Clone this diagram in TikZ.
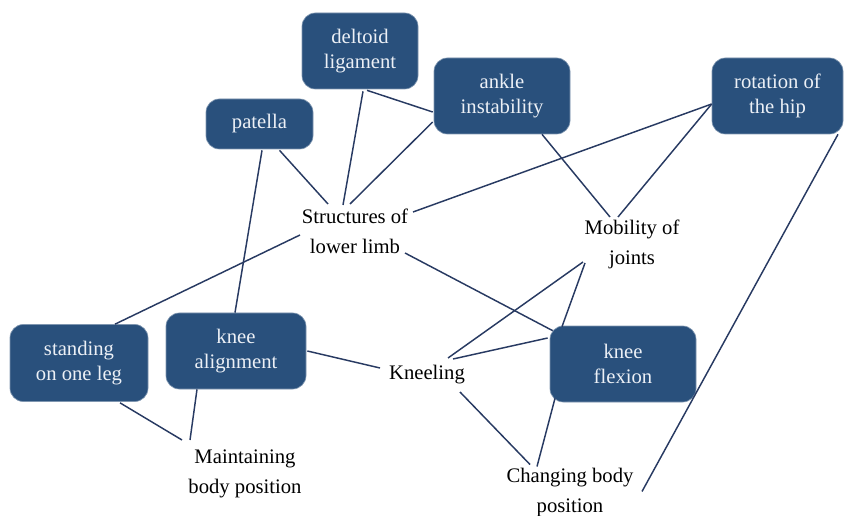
\documentclass[tikz,border=0pt]{standalone}
\usepackage{fontspec}
\setmainfont{Liberation Serif}
\usetikzlibrary{calc}
\definecolor{boxblue}{RGB}{41,80,124}
\definecolor{edgeblue}{RGB}{40,58,98}
\definecolor{boxtext}{RGB}{236,240,246}
\tikzset{
  topic/.style={rounded corners=10pt, fill=boxblue, draw=boxblue!60!white, line width=0.5pt,
    text=boxtext, align=center, inner sep=0pt,
    font=\fontsize{15.5}{18.5}\selectfont},
  term/.style={align=center, inner sep=0pt, text=black,
    font=\fontsize{15.5}{22.5}\selectfont},
  link/.style={draw=edgeblue, line width=1.1pt}
}
\begin{document}
\begin{tikzpicture}[x=0.75pt, y=-0.75pt]
\useasboundingbox (0,0) rectangle (845,516);

% rounded topic boxes
\node[topic, minimum width=87pt,    minimum height=57pt]    (delt)  at (360,51)    {deltoid\\ligament};
\node[topic, minimum width=102pt,   minimum height=57pt]    (ankle) at (502,96)    {ankle\\instability};
\node[topic, minimum width=80.25pt, minimum height=37.5pt]  (pat)   at (259.5,124) {patella};
\node[topic, minimum width=98.25pt, minimum height=57pt]    (hip)   at (777.5,96)  {rotation of\\the hip};
\node[topic, minimum width=103.5pt, minimum height=57.75pt] (stand) at (79,363)    {standing\\on one leg};
\node[topic, minimum width=105pt,   minimum height=57pt]    (align) at (236,351)   {knee\\alignment};
\node[topic, minimum width=109.5pt, minimum height=57pt]    (flex)  at (623,364)   {knee\\flexion};

% plain text terms
\node[term] (struct) at (355,231) {Structures of\\lower limb};
\node[term] (mob)    at (632,244) {Mobility of\\joints};
\node[term] (kneel)  at (427,375) {Kneeling};
\node[term] (maint)  at (245,474) {Maintaining\\body position};
\node[term] (change) at (570,492.5) {Changing body\\position};

% connectors
\draw[link] ($(delt.south)+(3,2)$)    -- ($(struct)+(-12,-26)$);
\draw[link] ($(delt.south)+(7,1)$)    -- ($(ankle.west)+(-1,16)$);
\draw[link] ($(pat.south)+(20,1)$)    -- ($(struct)+(-27,-27)$);
\draw[link] ($(pat.south)+(2.5,1)$)   -- ($(align.north)+(-1,0)$);
\draw[link] ($(ankle.west)+(-1,26)$)  -- ($(struct)+(-5,-27)$);
\draw[link] ($(ankle.south)+(40,0)$)  -- ($(mob)+(-22,-27)$);
\draw[link] ($(hip.west)+(0,8)$)      -- ($(struct)+(58,-19)$);
\draw[link] ($(hip.west)+(0,8)$)      -- ($(mob)+(-14,-27)$);
\draw[link] ($(hip.south)+(60.5,0)$)  -- ($(change)+(72,-1)$);
\draw[link] ($(struct)+(-55,4)$)      -- ($(stand.north)+(36,0)$);
\draw[link] ($(struct)+(50,22)$)      -- ($(flex.north west)+(3,5)$);
\draw[link] ($(align.east)+(1,0)$)    -- ($(kneel)+(-47,-7)$);
\draw[link] ($(kneel)+(21,-17)$)      -- ($(mob)+(-49,18)$);
\draw[link] ($(mob)+(-47,19)$)        -- ($(flex.north)+(-61,1)$);
\draw[link] ($(kneel)+(26,-16)$)      -- ($(flex.west)+(-2,-26)$);
\draw[link] ($(kneel)+(33,17)$)       -- ($(change)+(-40,-28)$);
\draw[link] ($(flex.south)+(-68,-4)$) -- ($(change)+(-33,-26)$);
\draw[link] ($(stand.south)+(41,1)$)  -- ($(maint)+(-63,-34)$);
\draw[link] ($(align.south)+(-39,0)$) -- ($(maint)+(-55,-34)$);
\end{tikzpicture}
\end{document}
